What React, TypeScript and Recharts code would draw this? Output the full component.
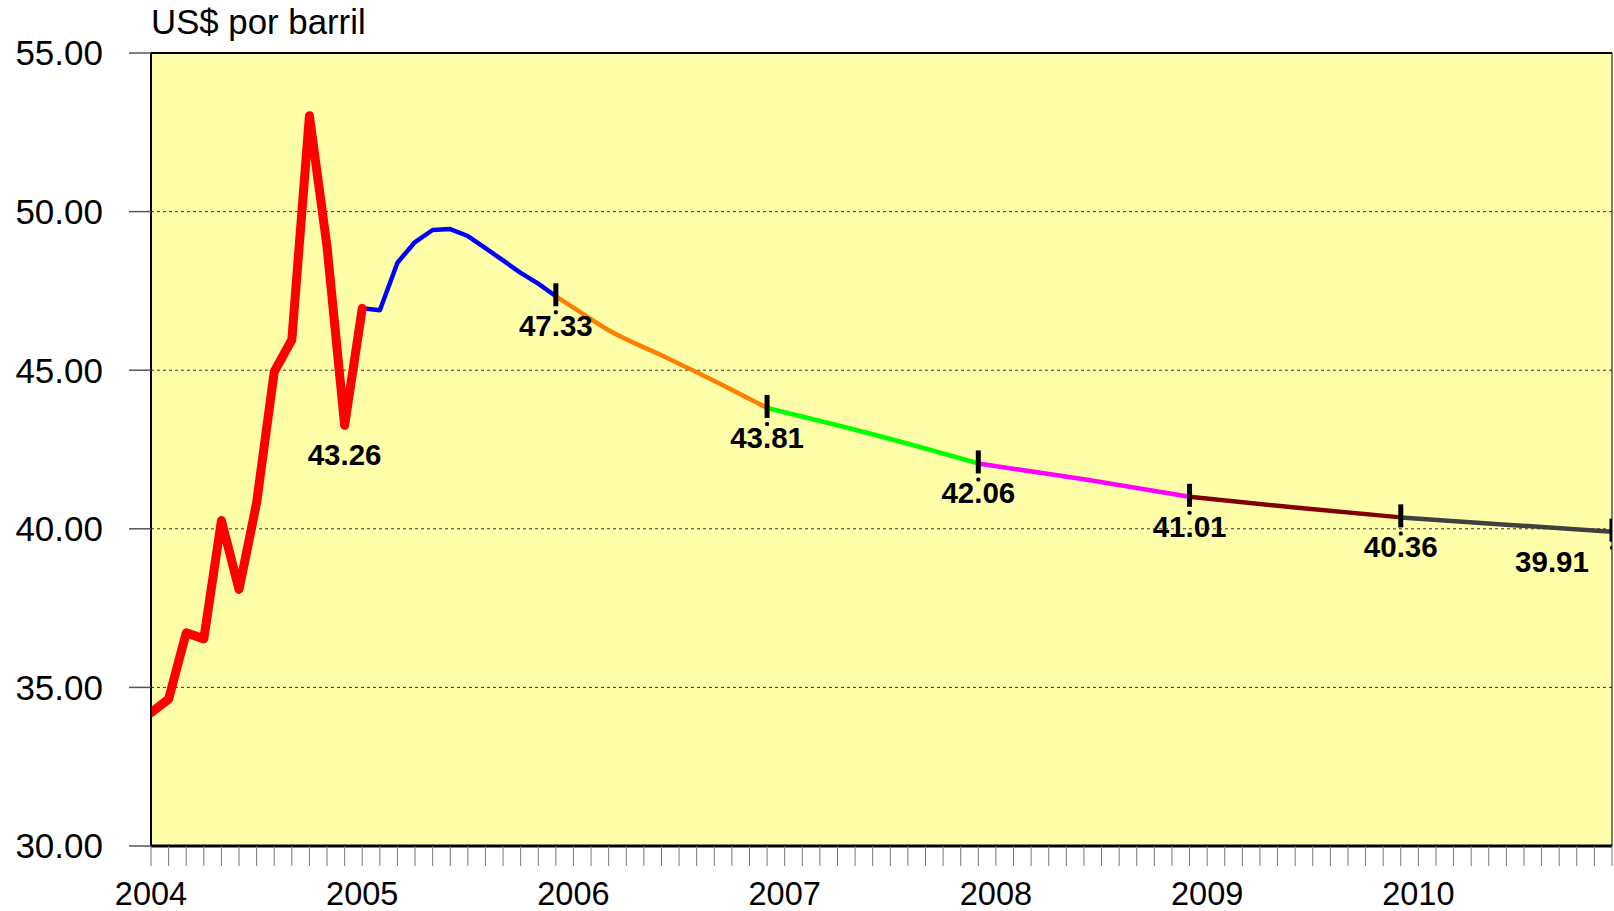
import React from 'react';
import { ComposedChart, Line, Scatter, XAxis, YAxis, CartesianGrid, ReferenceLine } from 'recharts';

// Month index 0 = Jan 2004 ... 83 = Dec 2010
const yearLabels = ['2004', '2005', '2006', '2007', '2008', '2009', '2010'];
const yTicks = [30, 35, 40, 45, 50, 55];
const monthTicks = Array.from({ length: 84 }, (_, i) => i);

// 2004 actual (Jan 2004 .. Jan 2005)
const redMonths = [0, 1, 2, 3, 4, 5, 6, 7, 8, 9, 10, 11, 12];
const redValues = [34.2, 34.63, 36.72, 36.53, 40.26, 38.09, 40.82, 44.95, 45.96, 53.02, 48.9, 43.26, 46.95];

// 2005
const blueMonths = [12, 13, 14, 15, 16, 17, 18, 19, 20, 21, 22, 23];
const blueValues = [46.95, 46.89, 48.39, 49.04, 49.42, 49.45, 49.23, 48.85, 48.46, 48.07, 47.73, 47.33];

// 2006
const orangeMonths = [23, 24, 26, 29, 32, 35];
const orangeValues = [47.33, 46.97, 46.26, 45.47, 44.66, 43.81];

// 2007
const greenMonths = [35, 41, 47];
const greenValues = [43.81, 42.98, 42.06];

// 2008
const magentaMonths = [47, 53, 59];
const magentaValues = [42.06, 41.56, 41.01];

// 2009
const darkRedMonths = [59, 65, 71];
const darkRedValues = [41.01, 40.67, 40.36];

// 2010
const grayMonths = [71, 77, 83];
const grayValues = [40.36, 40.13, 39.91];

// Annotated values
const labelMonths = [11, 23, 35, 47, 59, 71, 83];
const labelValues = [43.26, 47.33, 43.81, 42.06, 41.01, 40.36, 39.91];
const labelHasMarker = [false, true, true, true, true, true, true];

const rows = (ms: number[], vs: number[]) => ms.map((m, i) => ({ m, v: vs[i] }));

const annotations = labelMonths.map((m, i) => ({ m, v: labelValues[i], mk: labelHasMarker[i], idx: i }));

const FONT = 'Liberation Sans, Arial, Helvetica, sans-serif';

const AnnotationShape = (props: any) => {
  const { cx, cy, payload } = props;
  if (cx == null || cy == null) return <g />;
  const last = payload.idx === labelMonths.length - 1;
  const tx = last ? cx - 60 : cx;
  return (
    <g>
      {payload.mk && (
        <>
          <rect x={cx - 2.5} y={cy - 13} width={5} height={23} fill="#000" />
          <rect x={cx - 2} y={cy + 14} width={4} height={4} rx={1.5} fill="#000" />
        </>
      )}
      <text
        x={tx}
        y={cy + 40}
        textAnchor="middle"
        fontFamily={FONT}
        fontWeight="bold"
        fontSize={29.5}
        fill="#000"
      >
        {payload.v.toFixed(2)}
      </text>
    </g>
  );
};

const XTick = (props: any) => {
  const { x, y, payload } = props;
  const v = payload.value;
  if (v % 12 !== 0) return <g />;
  return (
    <text x={x} y={y} dy="0.71em" textAnchor="middle" fontFamily={FONT} fontSize={32.5} fill="#000">
      {yearLabels[v / 12]}
    </text>
  );
};

const lineCommon = {
  dataKey: 'v',
  dot: false,
  activeDot: false,
  isAnimationActive: false,
  strokeLinejoin: 'round' as const,
  strokeLinecap: 'round' as const,
  legendType: 'none' as const,
};

export default function App() {
  return (
    <div style={{ position: 'absolute', left: 0, top: 0, width: 1614, height: 911, background: '#fff' }}>
      <ComposedChart width={1614} height={911} margin={{ top: 53, right: 2, bottom: 0, left: 0 }}>
        <CartesianGrid
          vertical={false}
          horizontal={true}
          stroke="#333"
          strokeDasharray="3 3"
          fill="#FFFFAA"
          fillOpacity={1}
        />
        <XAxis
          dataKey="m"
          type="number"
          domain={[0, 83]}
          ticks={monthTicks}
          interval={0}
          height={65}
          tickSize={20}
          tickMargin={16}
          axisLine={{ stroke: '#000', strokeWidth: 3 }}
          tickLine={{ stroke: '#777', strokeWidth: 1 }}
          tick={<XTick />}
          allowDataOverflow
        />
        <YAxis
          type="number"
          domain={[30, 55]}
          ticks={yTicks}
          width={151}
          tickSize={22}
          tickMargin={26}
          axisLine={{ stroke: '#000', strokeWidth: 2 }}
          tickLine={{ stroke: '#555', strokeWidth: 1.5 }}
          tick={{ fontSize: 35, fill: '#000', fontFamily: FONT }}
          tickFormatter={(v: number) => v.toFixed(2)}
          allowDataOverflow
        />
        <ReferenceLine y={55} stroke="#000" strokeWidth={2} ifOverflow="visible" />
        <ReferenceLine x={83} stroke="#000" strokeWidth={1} ifOverflow="visible" />
        <Line {...lineCommon} data={rows(blueMonths, blueValues)} stroke="#0000FF" strokeWidth={4.5} type="linear" />
        <Line {...lineCommon} data={rows(redMonths, redValues)} stroke="#FF0000" strokeWidth={9} type="linear" />
        <Line {...lineCommon} data={rows(orangeMonths, orangeValues)} stroke="#FF8000" strokeWidth={4.5} type="monotone" />
        <Line {...lineCommon} data={rows(greenMonths, greenValues)} stroke="#00FF00" strokeWidth={4.5} type="monotone" />
        <Line {...lineCommon} data={rows(magentaMonths, magentaValues)} stroke="#FF00FF" strokeWidth={4.5} type="linear" />
        <Line {...lineCommon} data={rows(darkRedMonths, darkRedValues)} stroke="#800000" strokeWidth={4.5} type="linear" />
        <Line {...lineCommon} data={rows(grayMonths, grayValues)} stroke="#404040" strokeWidth={4.5} type="linear" />
        <Scatter data={annotations} dataKey="v" shape={<AnnotationShape />} isAnimationActive={false} legendType="none" />
      </ComposedChart>
      <svg width={600} height={50} style={{ position: 'absolute', left: 0, top: 0 }}>
        <text x={151} y={34} fontFamily={FONT} fontSize={34.8} fill="#000">
          US$ por barril
        </text>
      </svg>
    </div>
  );
}
